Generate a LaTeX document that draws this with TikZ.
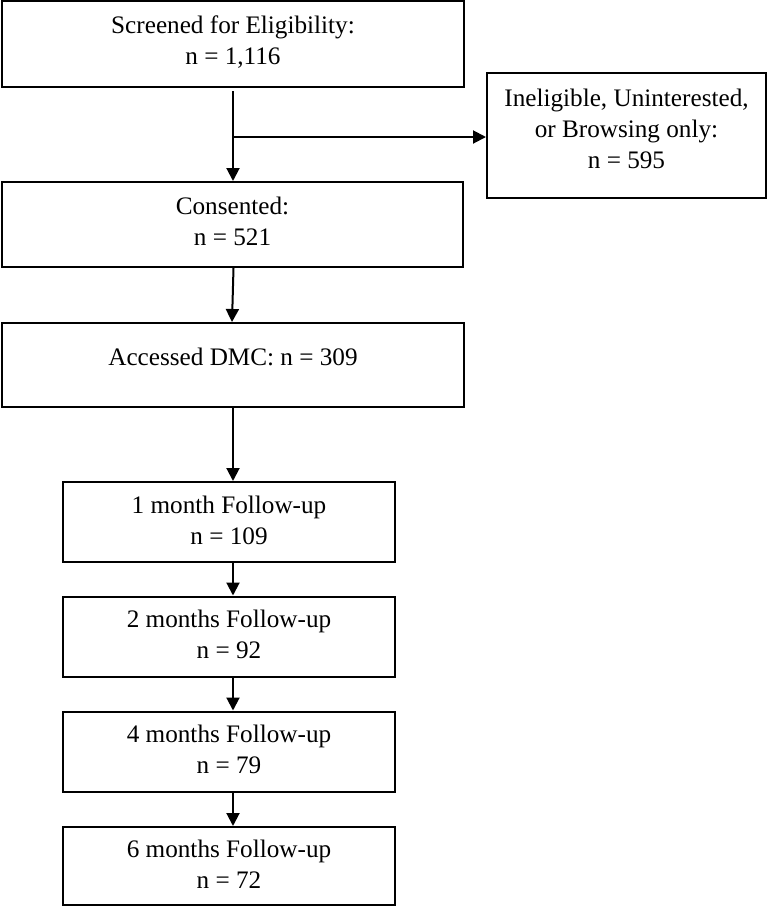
\documentclass[tikz,border=0pt]{standalone}
\usepackage{fontspec}
\setmainfont{Liberation Serif}
\usetikzlibrary{arrows.meta, calc}
\tikzset{
    flow box/.style={
        draw=black, line width=1pt, fill=white, align=center,
        inner sep=0pt, text depth=3.5pt,
        font=\fontsize{12.6pt}{15.5pt}\selectfont
    },
    flow arrow/.style={
        draw=black, line width=1pt,
        -{Triangle[length=6.5pt, width=6.5pt]}
    }
}
\begin{document}
\begin{tikzpicture}[x=0.5pt, y=-0.5pt]

% Fijar el marco de la figura.
\useasboundingbox (0,0) rectangle (767,907);

% Cajas principales.
\node[flow box, minimum width=231pt, minimum height=43pt] (screened) at (233,44)
    {Screened for Eligibility:\\n = 1,116};
\node[flow box, minimum width=139.5pt, minimum height=62.5pt, text depth=7pt] (excluded) at (626.5,135.5)
    {Ineligible, Uninterested,\\or Browsing only:\\n = 595};
\node[flow box, minimum width=230.5pt, minimum height=42.5pt] (consented) at (232.5,224.5)
    {Consented:\\n = 521};
\node[flow box, minimum width=231pt, minimum height=42pt, text depth=8pt] (accessed) at (233,365)
    {Accessed DMC: n = 309};

% Cajas de seguimiento.
\node[flow box, minimum width=166pt, minimum height=40pt, text depth=2pt] (month1) at (229,522)
    {1 month Follow-up\\n = 109};
\node[flow box, minimum width=166pt, minimum height=40pt, text depth=2pt] (month2) at (229,636.5)
    {2 months Follow-up\\n = 92};
\node[flow box, minimum width=166pt, minimum height=40pt, text depth=2pt] (month4) at (229,751.5)
    {4 months Follow-up\\n = 79};
\node[flow box, minimum width=166pt, minimum height=39pt, text depth=2pt] (month6) at (229,866)
    {6 months Follow-up\\n = 72};

% Punto de salida hacia la caja de excluidos.
\coordinate (split) at ($(screened.south)+(0,49)$);

% Flechas.
\draw[flow arrow] ($(screened.south)+(0,3)$) -- (consented.north -| screened.south);
\draw[flow arrow] (split) -- (split -| excluded.west);
\draw[flow arrow] ($(consented.south)+(1,0)$) -- ($(accessed.north)+(-1,0)$);
\draw[flow arrow] (accessed.south) -- (accessed.south |- month1.north);
\draw[flow arrow] (month1.south -| accessed.south) -- (month2.north -| accessed.south);
\draw[flow arrow] (month2.south -| accessed.south) -- (month4.north -| accessed.south);
\draw[flow arrow] (month4.south -| accessed.south) -- (month6.north -| accessed.south);

\end{tikzpicture}
\end{document}
